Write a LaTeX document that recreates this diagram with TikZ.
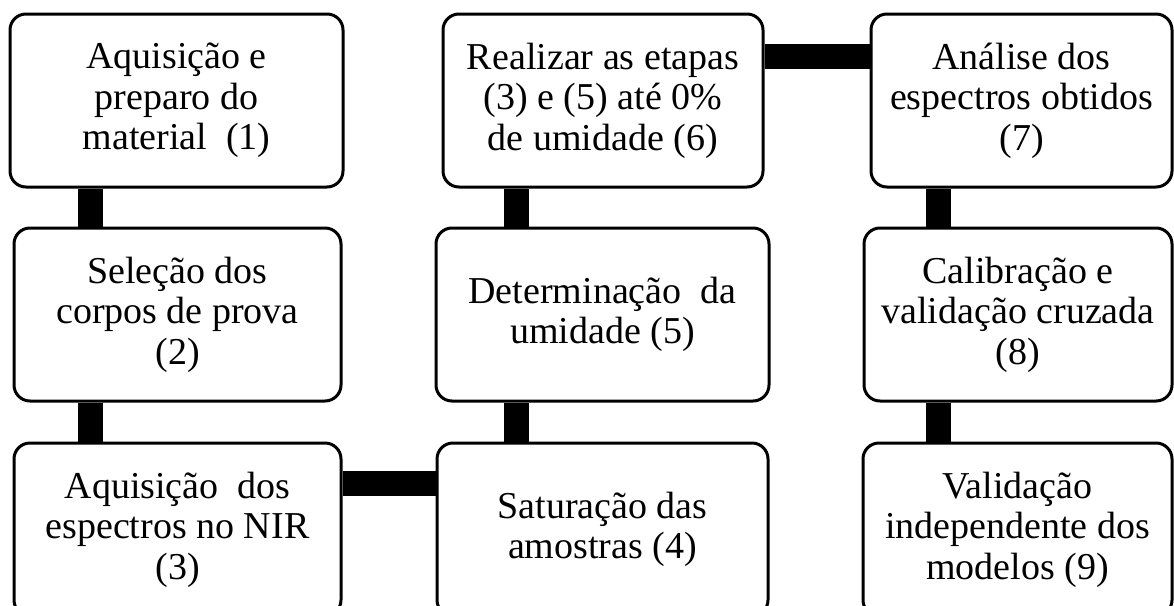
\documentclass[tikz,border=0pt]{standalone}
\usepackage{fontspec}
\setmainfont{Liberation Serif}
\begin{document}
\begin{tikzpicture}
[x=1pt,y=-1pt,box/.style={draw,line width=3pt,rounded corners=16pt,fill=white,align=center,inner sep=0pt,minimum height=173pt,font=\fontsize{38}{40.5}\selectfont},bar/.style={line width=25pt},]

%Page size
\useasboundingbox (0,0) rectangle (1174,605);
\clip (0,0) rectangle (1174,605);

%First column
\node (S1) at (176.5,100.5)[box,minimum width=333pt] {Aquisição e\\preparo do\\material\ \ (1)};
\node (S2) at (177.5,314.5)[box,minimum width=327pt] {Seleção dos\\corpos de prova\\(2)};
\node (S3) at (177.5,529.5)[box,minimum width=327pt] {Aquisição\ \ dos\\espectros no NIR\\(3)};

%Second column
\node (S4) at (602.5,529.5)[box,minimum width=331pt] {Saturação das\\amostras (4)};
\node (S5) at (602.5,314.5)[box,minimum width=333pt] {Determinação\ \ da\\umidade (5)};
\node (S6) at (603,100.5)[box,minimum width=320pt] {Realizar as etapas\\(3) e (5) até 0\%\\de umidade (6)};

%Third column
\node (S7) at (1021.5,100.5)[box,minimum width=301pt] {Análise dos\\espectros obtidos\\(7)};
\node (S8) at (1018,314.5)[box,minimum width=308pt] {Calibração e\\validação cruzada\\(8)};
\node (S9) at (1017.5,529.5)[box,minimum width=309pt] {Validação\\independente dos\\modelos (9)};

%Drawing the bars between steps
\draw[bar] ([xshift=82pt]S1.south west) -- ([xshift=78pt]S2.north west);
\draw[bar] ([xshift=78pt]S2.south west) -- ([xshift=78pt]S3.north west);
\draw[bar] ([yshift=46.5pt]S3.east) -- ([yshift=46.5pt]S4.west);
\draw[bar] ([xshift=81pt]S4.north west) -- ([xshift=82pt]S5.south west);
\draw[bar] ([xshift=82pt]S5.north west) -- ([xshift=75pt]S6.south west);
\draw[bar] ([yshift=44pt]S6.east) -- ([yshift=44pt]S7.west);
\draw[bar] ([xshift=69pt]S7.south west) -- ([xshift=76pt]S8.north west);
\draw[bar] ([xshift=76pt]S8.south west) -- ([xshift=77pt]S9.north west);

\end{tikzpicture}
\end{document}
